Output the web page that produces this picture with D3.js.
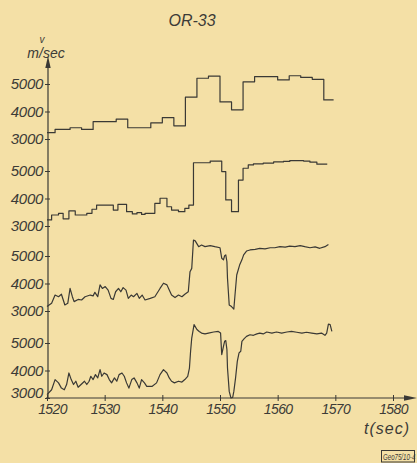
<!DOCTYPE html>
<html>
<head>
<meta charset="utf-8">
<script src="https://cdn.jsdelivr.net/npm/d3@7"></script>
<style>
  body { margin: 0; background: #f4e0a6; }
  svg { display: block; }
  text { font-family: 'Liberation Sans', Arial, sans-serif; font-style: italic; fill: #3c3b37; }
  .trace { fill: none; stroke: #3a3935; stroke-width: 1.2; stroke-linejoin: round; }
</style>
</head>
<body>
<svg width="417" height="463"></svg>
<script>
// time (sec) and velocity (m/sec) for the four records, top to bottom
const t1 = [1520, 1521.4, 1524, 1526, 1528, 1532, 1534, 1538, 1540, 1542, 1544, 1546, 1548, 1550, 1552, 1554, 1556, 1560, 1562, 1564, 1566, 1568, 1569.7];
const v1 = [3230, 3350, 3410, 3350, 3630, 3720, 3410, 3590, 3780, 3480, 4520, 5210, 5290, 4350, 4060, 5080, 5270, 5150, 5300, 5240, 5170, 4420, 4420];

const t2 = [1520, 1520.8, 1522, 1522.8, 1523.8, 1524.9, 1526.9, 1527.8, 1528.6, 1531.5, 1532.3, 1533.8, 1534.8, 1535.6, 1536.4, 1537, 1538.7, 1539.6, 1540.8, 1541.6, 1542.8, 1543.9, 1544.6, 1545.4, 1548.3, 1550.3, 1551, 1552, 1553.2, 1554, 1554.9, 1555.8, 1557.5, 1559.3, 1561, 1562.1, 1564.5, 1565.6, 1566.8, 1568.6];
const v2 = [3220, 3400, 3460, 3260, 3550, 3400, 3460, 3610, 3760, 3580, 3790, 3520, 3440, 3490, 3420, 3460, 3820, 4010, 3700, 3580, 3520, 3640, 3760, 5300, 5360, 4980, 3950, 3520, 4670, 5100, 5220, 5260, 5290, 5330, 5350, 5380, 5360, 5320, 5250, 5250];

const t3 = [1520, 1520.8, 1521.4, 1522, 1522.5, 1523.1, 1523.6, 1524, 1524.4, 1524.7, 1525.4, 1526, 1526.6, 1527.5, 1528, 1528.3, 1528.8, 1529.2, 1529.6, 1530.1, 1530.6, 1531.1, 1531.5, 1531.9, 1532.4, 1532.8, 1533.2, 1533.7, 1534.1, 1534.6, 1535, 1535.6, 1536, 1536.5, 1537, 1537.9, 1538.7, 1539.6, 1540.2, 1540.8, 1541.2, 1541.6, 1542.2, 1542.8, 1543.4, 1543.9, 1544.5, 1544.8, 1545.1, 1545.4, 1545.7, 1546.3, 1546.8, 1547.4, 1548.3, 1549.1, 1550, 1550.3, 1550.6, 1550.8, 1551, 1551.2, 1551.3, 1551.6, 1552, 1552.4, 1552.6, 1552.9, 1553.4, 1553.8, 1554.1, 1554.6, 1555.2, 1556.1, 1556.9, 1557.8, 1558.7, 1559.5, 1560.4, 1561.3, 1562.1, 1563, 1563.9, 1564.7, 1565.6, 1566.5, 1567.3, 1568.2, 1568.8];
const v3 = [3160, 3280, 3580, 3520, 3610, 3220, 3280, 3820, 3520, 3340, 3420, 3400, 3520, 3580, 3550, 3680, 3520, 3950, 3820, 3890, 3760, 3460, 3420, 3700, 3820, 3700, 3850, 3760, 3460, 3580, 3520, 3640, 3460, 3580, 3400, 3460, 3520, 3820, 4010, 3950, 3760, 3580, 3490, 3580, 3520, 3610, 3700, 4430, 4550, 5580, 5550, 5340, 5400, 5340, 5380, 5340, 5300, 4920, 4860, 5010, 5040, 4790, 4190, 3220, 3160, 3070, 3580, 4310, 4670, 4860, 5040, 5180, 5220, 5240, 5280, 5260, 5300, 5300, 5340, 5320, 5360, 5340, 5380, 5340, 5300, 5330, 5280, 5340, 5420];

const t4 = [1520, 1520.8, 1521.4, 1522, 1522.5, 1523, 1523.4, 1523.8, 1524.2, 1524.6, 1525, 1525.4, 1526, 1526.5, 1526.9, 1527.3, 1527.6, 1528, 1528.4, 1528.8, 1529.2, 1529.5, 1529.9, 1530.4, 1530.8, 1531.2, 1531.7, 1532.1, 1532.5, 1533, 1533.4, 1533.8, 1534.2, 1534.7, 1535.1, 1535.6, 1536, 1536.4, 1536.9, 1537.3, 1538.2, 1539, 1539.6, 1540.2, 1540.8, 1541.2, 1541.6, 1542.1, 1542.8, 1543.4, 1543.9, 1544.4, 1544.7, 1544.9, 1545.1, 1545.5, 1546, 1546.4, 1546.8, 1547.4, 1548, 1548.9, 1549.7, 1550.1, 1550.3, 1550.6, 1550.8, 1551, 1551.2, 1551.3, 1551.6, 1551.9, 1552.2, 1552.4, 1552.7, 1553, 1553.3, 1553.6, 1553.8, 1554.2, 1554.6, 1555.2, 1555.8, 1556.4, 1556.9, 1557.5, 1558.1, 1559, 1559.8, 1560.7, 1561.6, 1562.4, 1563.3, 1564.2, 1565, 1565.9, 1566.8, 1567.6, 1568.2, 1568.5, 1568.8, 1569.1, 1569.4];
const v4 = [3120, 3300, 3670, 3550, 3360, 3300, 3490, 3910, 3670, 3490, 3610, 3390, 3510, 3610, 3490, 3610, 3790, 3670, 3850, 3730, 4030, 3790, 3910, 3850, 3670, 3550, 3730, 3610, 3850, 3910, 3790, 3550, 3360, 3670, 3730, 3550, 3360, 3670, 3550, 3420, 3420, 3550, 3850, 4030, 3910, 3730, 3610, 3550, 3610, 3580, 3670, 3790, 4090, 4700, 5180, 5670, 5490, 5420, 5360, 5330, 5360, 5400, 5420, 5360, 4580, 4880, 5060, 5090, 4760, 4090, 3240, 3000, 3020, 3240, 3730, 4330, 4640, 4700, 5060, 5160, 5240, 5300, 5280, 5330, 5360, 5330, 5400, 5360, 5400, 5360, 5400, 5420, 5390, 5360, 5390, 5360, 5330, 5360, 5280, 5360, 5690, 5670, 5420];

const xTicks = [1520, 1530, 1540, 1550, 1560, 1570, 1580];
const yTicks = [3000, 4000, 5000];

const svg = d3.select('svg');
const ink = '#3a3935';

svg.append('rect').attr('width', 417).attr('height', 463).attr('fill', '#f4e0a6');

const x = d3.scaleLinear().domain([1520, 1580]).range([47, 393]);
const baselines = [139, 226, 311, 398];
const yScales = baselines.map((b) => d3.scaleLinear().domain([3000, 5000]).range([b, b - 55]));

const records = [
  { t: t1, v: v1, curve: d3.curveStepAfter },
  { t: t2, v: v2, curve: d3.curveStepAfter },
  { t: t3, v: v3, curve: d3.curveLinear },
  { t: t4, v: v4, curve: d3.curveLinear },
];

// y axes, one set of ticks per record
yScales.forEach((y, i) => {
  const g = svg.append('g')
    .attr('transform', 'translate(48,0)')
    .call(d3.axisLeft(y).tickValues(yTicks).tickSize(3).tickPadding(2).tickFormat(d3.format('d')));
  g.select('.domain').remove();
  g.selectAll('.tick line').attr('x1', 2).attr('x2', -3).attr('stroke', ink);
  g.selectAll('.tick text').attr('font-size', 15).attr('letter-spacing', -0.3).attr('fill', '#3c3b37');
  // lowest label sits just above the time axis
  if (i === 3) g.selectAll('.tick text').filter((d) => d === 3000).attr('y', -5);
});

// main vertical axis with arrow
svg.append('line')
  .attr('x1', 48).attr('y1', 398).attr('x2', 48).attr('y2', 62)
  .attr('stroke', ink).attr('stroke-width', 1.2);
svg.append('path')
  .attr('d', 'M48,56 L45.3,68 L50.7,68 Z')
  .attr('fill', ink);

// x axis
const xg = svg.append('g')
  .attr('transform', 'translate(0,398)')
  .call(d3.axisBottom(x).tickValues(xTicks).tickSize(3).tickPadding(3).tickFormat(d3.format('d')));
xg.select('.domain').remove();
xg.selectAll('.tick line').attr('y1', -3).attr('y2', 3).attr('stroke', ink);
xg.selectAll('.tick text').attr('font-size', 14).attr('letter-spacing', -0.6).attr('fill', '#3c3b37');
xg.selectAll('.tick text').filter((d) => d === 1520).attr('x', 5);

svg.append('line')
  .attr('x1', 46).attr('y1', 398).attr('x2', 408).attr('y2', 398)
  .attr('stroke', ink).attr('stroke-width', 1.2);
svg.append('path')
  .attr('d', 'M417,398 L404,395.2 L404,400.8 Z')
  .attr('fill', ink);

// traces
records.forEach((r, i) => {
  const y = yScales[i];
  const pts = r.t.map((t, k) => [t, r.v[k]]);
  const line = d3.line()
    .x((d) => x(d[0]))
    .y((d) => y(d[1]))
    .curve(r.curve);
  svg.append('path')
    .datum(pts)
    .classed('trace', true)
    .attr('d', line);
});

// titles and labels
svg.append('text')
  .attr('x', 192).attr('y', 26)
  .attr('text-anchor', 'middle')
  .attr('font-size', 16)
  .text('OR-33');

svg.append('text')
  .attr('x', 42).attr('y', 43)
  .attr('text-anchor', 'middle')
  .attr('font-size', 10)
  .text('v');

svg.append('text')
  .attr('x', 46).attr('y', 58)
  .attr('text-anchor', 'middle')
  .attr('font-size', 14)
  .text('m/sec');

svg.append('text')
  .attr('x', 410).attr('y', 434)
  .attr('text-anchor', 'end')
  .attr('font-size', 16)
  .attr('letter-spacing', 1)
  .text('t(sec)');

svg.append('rect')
  .attr('x', 381.5).attr('y', 450.5).attr('width', 33).attr('height', 11.5)
  .attr('fill', 'none').attr('stroke', ink).attr('stroke-width', 1);
svg.append('g')
  .attr('transform', 'translate(383,459.5) scale(0.68,1)')
  .append('text')
  .attr('font-size', 9)
  .text('Geo75/10-4');
</script>
</body>
</html>
